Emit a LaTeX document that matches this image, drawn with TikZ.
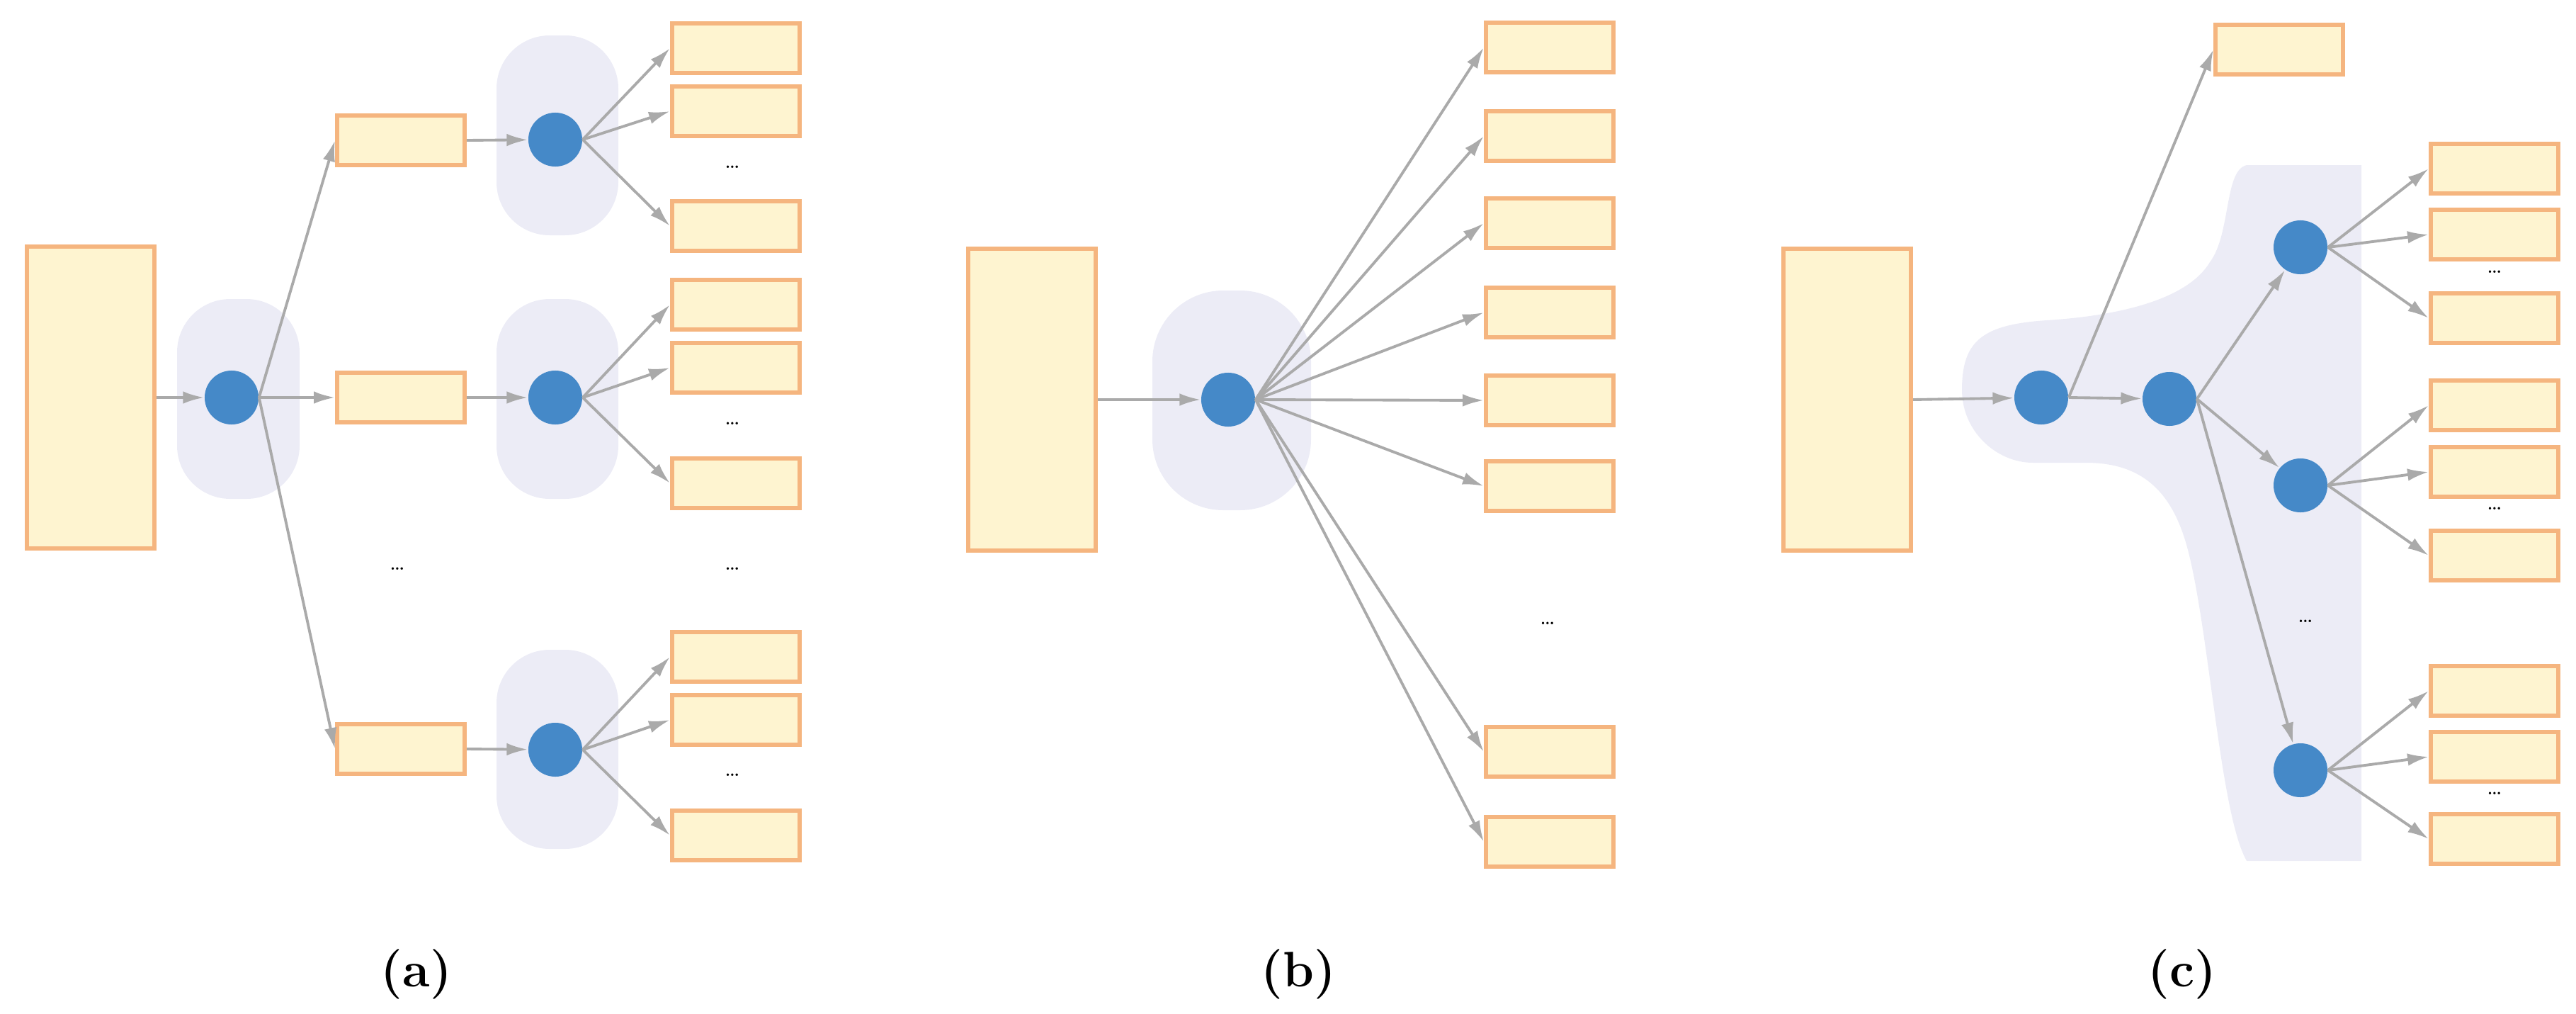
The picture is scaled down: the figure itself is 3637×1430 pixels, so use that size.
\documentclass[tikz,border=0pt]{standalone}
\usetikzlibrary{arrows.meta}
\definecolor{boxfill}{HTML}{FEF4D0}
\definecolor{boxdraw}{HTML}{F5B57F}
\definecolor{dotc}{HTML}{4589C8}
\definecolor{blob}{HTML}{ECECF6}
\definecolor{arr}{HTML}{AAAAAA}
\begin{document}
\begin{tikzpicture}[x=0.01cm,y=-0.01cm,
  box/.style={draw=boxdraw,fill=boxfill,line width=1.7pt,minimum width=1.8cm,minimum height=0.70cm,inner sep=0pt},
  big/.style={box,minimum height=4.25cm},
  dot/.style={circle,fill=dotc,minimum size=0.76cm,inner sep=0pt},
  ar/.style={draw=arr,line width=1.1pt,-{Latex[length=8.5pt,width=5pt]}},
  el/.style={font=\small,inner sep=0pt},
  lab/.style={font=\fontsize{20}{24}\selectfont\bfseries}]
\useasboundingbox (0,0) rectangle (3637,1430);
% ---------- (a)
\fill[blob,rounded corners=0.75cm] (250,422) rectangle (423,704);
\fill[blob,rounded corners=0.75cm] (701,50) rectangle (873,332);
\fill[blob,rounded corners=0.75cm] (701,422) rectangle (873,704);
\fill[blob,rounded corners=0.75cm] (701,917) rectangle (873,1198);
\node[big] (aB) at (128,561) {};
\node[dot] (a0) at (327,561) {};
\node[box] (am1) at (566,198) {};
\node[box] (am2) at (566,561) {};
\node[box] (am3) at (566,1057) {};
\node[dot] (a1) at (784,197) {};
\node[dot] (a2) at (784,561) {};
\node[dot] (a3) at (784,1058) {};
\node[box] (r11) at (1039,68) {};
\node[box] (r12) at (1039,157) {};
\node[box] (r13) at (1039,319) {};
\node[box] (r21) at (1039,430) {};
\node[box] (r22) at (1039,519) {};
\node[box] (r23) at (1039,682) {};
\node[box] (r31) at (1039,927) {};
\node[box] (r32) at (1039,1016) {};
\node[box] (r33) at (1039,1179) {};
\node[el] (ad1) at (1034,236) {\dots};
\node[el] (ad2) at (1034,598) {\dots};
\node[el] (ad3) at (1034,1094) {\dots};
\node[el] (ad4) at (561,803) {\dots};
\node[el] (ad5) at (1034,803) {\dots};
\draw[ar] (aB.east) -- (a0);
\foreach \m in {am1,am2,am3} \draw[ar] (a0.east) -- (\m.west);
\draw[ar] (am1.east) -- (a1);
\draw[ar] (am2.east) -- (a2);
\draw[ar] (am3.east) -- (a3);
\foreach \i in {1,2,3} {\foreach \j in {1,2,3} \draw[ar] (a\i.east) -- (r\i\j.west);}
\node[lab] (la) at (588,1375) {(a)};
% ---------- (b)
\fill[blob,rounded corners=1cm] (1627,410) rectangle (1851,720);
\node[big] (bB) at (1457,564) {};
\node[dot] (b0) at (1734,564) {};
\foreach \y [count=\k] in {67,192,315,441,565,686,1061,1188}
  \node[box] (b\k) at (2188,\y) {};
\node[el] (bd) at (2185,880) {\dots};
\draw[ar] (bB.east) -- (b0);
\foreach \k in {1,...,8} \draw[ar] (b0.east) -- (b\k.west);
\node[lab] (lb) at (1833,1375) {(b)};
% ---------- (c)
\fill[blob] (3334,233) -- (3172,233) .. controls (3140,240) and (3150,330) .. (3120,370)
  .. controls (3090,420) and (3000,445) .. (2890,452)
  .. controls (2800,458) and (2770,480) .. (2770,550)
  .. controls (2770,610) and (2820,653) .. (2870,653) -- (2945,653)
  .. controls (3030,653) and (3070,700) .. (3090,780)
  .. controls (3120,900) and (3135,1150) .. (3172,1215) -- (3334,1215) -- cycle;
\node[big] (cB) at (2608,564) {};
\node[box] (cT) at (3218,70) {};
\node[dot] (c1) at (2882,561) {};
\node[dot] (c2) at (3063,563) {};
\node[dot] (c3) at (3248,349) {};
\node[dot] (c4) at (3248,685) {};
\node[dot] (c5) at (3248,1087) {};
\node[box] (s31) at (3522,238) {};
\node[box] (s32) at (3522,331) {};
\node[box] (s33) at (3522,449) {};
\node[box] (s41) at (3522,572) {};
\node[box] (s42) at (3522,666) {};
\node[box] (s43) at (3522,784) {};
\node[box] (s51) at (3522,975) {};
\node[box] (s52) at (3522,1068) {};
\node[box] (s53) at (3522,1184) {};
\node[el] (cd1) at (3522,384) {\dots};
\node[el] (cd2) at (3522,718) {\dots};
\node[el] (cd3) at (3522,1120) {\dots};
\node[el] (cd4) at (3255,877) {\dots};
\draw[ar] (cB.east) -- (c1);
\draw[ar] (c1.east) -- (cT.west);
\draw[ar] (c1.east) -- (c2);
\foreach \t in {c3,c4,c5} \draw[ar] (c2.east) -- (\t);
\foreach \i in {3,4,5} {\foreach \j in {1,2,3} \draw[ar] (c\i.east) -- (s\i\j.west);}
\node[lab] (lc) at (3081,1375) {(c)};
\end{tikzpicture}
\end{document}
